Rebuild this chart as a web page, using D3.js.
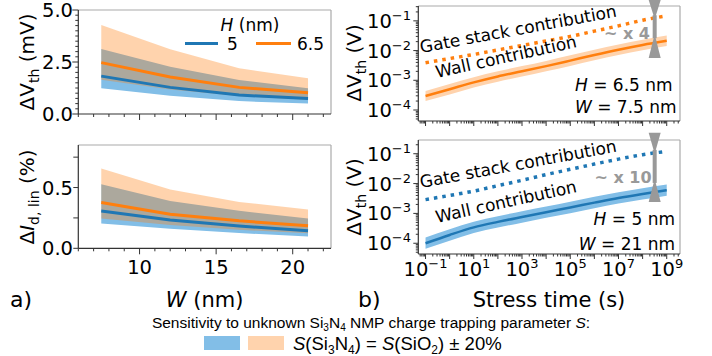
<!DOCTYPE html>
<html><head><meta charset="utf-8">
<script src="https://cdn.jsdelivr.net/npm/d3@7"></script>
<style>
body{margin:0;background:#fff}
svg{display:block}
text{font-family:"DejaVu Sans",sans-serif;fill:#000}
</style>
</head><body>
<svg id="c" width="712" height="356"></svg>
<script>
// ---------------- data ----------------
const widths = [7.5, 12, 16.5, 21];
const dVth5   = [1.82, 1.28, 0.91, 0.75];
const dVth5Lo = [1.24, 0.88, 0.62, 0.50];
const dVth5Hi = [3.13, 2.27, 1.63, 1.24];
const dVth65   = [2.47, 1.78, 1.28, 1.02];
const dVth65Lo = [1.65, 1.18, 0.86, 0.68];
const dVth65Hi = [4.28, 3.11, 2.20, 1.72];

const dId5   = [0.306, 0.232, 0.183, 0.144];
const dId5Lo = [0.205, 0.160, 0.125, 0.097];
const dId5Hi = [0.527, 0.390, 0.308, 0.246];
const dId65   = [0.377, 0.281, 0.226, 0.185];
const dId65Lo = [0.246, 0.191, 0.152, 0.123];
const dId65Hi = [0.656, 0.484, 0.382, 0.320];

const times = [1e-1, 1e0, 1e1, 1e2, 1e3, 1e4, 1e5, 1e6, 1e7, 1e8, 1e9];
const wall65   = [2.95e-4, 5.0e-4, 8.5e-4, 1.35e-3, 2.0e-3, 3.0e-3, 4.6e-3, 7.1e-3, 1.07e-2, 1.55e-2, 2.14e-2];
const wall65Lo = [2.0e-4, 3.35e-4, 5.7e-4, 9.0e-4, 1.33e-3, 2.0e-3, 3.05e-3, 4.7e-3, 7.1e-3, 1.03e-2, 1.42e-2];
const wall65Hi = [4.4e-4, 7.5e-4, 1.27e-3, 2.0e-3, 3.0e-3, 4.5e-3, 6.9e-3, 1.06e-2, 1.6e-2, 2.3e-2, 3.2e-2];
const gate65   = [3.9e-3, 5.4e-3, 7.4e-3, 1.05e-2, 1.48e-2, 2.1e-2, 3.0e-2, 4.5e-2, 6.8e-2, 1.05e-1, 1.48e-1];

const wall5   = [1.0e-4, 1.9e-4, 3.4e-4, 5.2e-4, 7.6e-4, 1.1e-3, 1.58e-3, 2.3e-3, 3.3e-3, 4.5e-3, 6.0e-3];
const wall5Lo = [6.5e-5, 1.22e-4, 2.2e-4, 3.35e-4, 4.9e-4, 7.1e-4, 1.02e-3, 1.48e-3, 2.13e-3, 2.9e-3, 3.9e-3];
const wall5Hi = [1.55e-4, 2.95e-4, 5.3e-4, 8.1e-4, 1.18e-3, 1.7e-3, 2.45e-3, 3.6e-3, 5.1e-3, 7.0e-3, 9.3e-3];
const gate5   = [2.9e-3, 4.0e-3, 5.6e-3, 8.5e-3, 1.29e-2, 2.0e-2, 3.0e-2, 4.5e-2, 6.6e-2, 9.3e-2, 1.2e-1];

// annotation arrows (time, [outer top, tip top, tip bottom, outer bottom])
const arrowTime = 10 ** 8.5;
const arrow65 = [0.5, 0.155, 0.026, 0.0056];
const arrow5  = [0.5, 0.135, 0.0105, 0.0024];

const xTicksW = [10, 15, 20];
const yTicksVth = [0, 2.5, 5];
const yTicksId = [0, 0.5];
const xTickExp = [-1, 1, 3, 5, 7, 9];
const yTickExp = [-1, -2, -3, -4];

// ---------------- style ----------------
const BLUE = "#1f77b4", ORANGE = "#ff7f0e";
const BLUE_BAND = "rgb(130,190,231)";
const ORANGE_BAND = "rgba(255,127,14,0.34)";
const ORANGE_PATCH = "rgb(255,211,173)";
const GRAY = "#999";
const SPINE = "#333", SPINE2 = "#aaa";

const svg = d3.select("#c");

// ---------------- left panels ----------------
const xW = d3.scaleLinear([6, 22.5], [78.3, 331]);
const yV = d3.scaleLinear([0, 5], [114, 10]);
const yI = d3.scaleLinear([0, 0.85], [248.3, 145]);

function frame(x0, x1, y0, y1) {
  svg.append("line").attr("x1", x0).attr("x2", x1).attr("y1", y0).attr("y2", y0).attr("stroke", SPINE2).attr("stroke-width", 1.2);
  svg.append("line").attr("x1", x1).attr("x2", x1).attr("y1", y0).attr("y2", y1).attr("stroke", SPINE2).attr("stroke-width", 1.2);
  svg.append("line").attr("x1", x0).attr("x2", x0).attr("y1", y0).attr("y2", y1).attr("stroke", SPINE).attr("stroke-width", 1.2);
  svg.append("line").attr("x1", x0).attr("x2", x1).attr("y1", y1).attr("y2", y1).attr("stroke", SPINE).attr("stroke-width", 1.2);
}
function tickX(x, y, len) {
  svg.append("line").attr("x1", x).attr("x2", x).attr("y1", y).attr("y2", y + len).attr("stroke", SPINE).attr("stroke-width", 1);
}
function tickY(x, y, len) {
  svg.append("line").attr("x1", x - len).attr("x2", x).attr("y1", y).attr("y2", y).attr("stroke", SPINE).attr("stroke-width", 1);
}

function leftPanel(y, lo5, v5, hi5, lo65, v65, hi65) {
  const area = (lo, hi) => d3.area().x((d, i) => xW(widths[i])).y0((d, i) => y(lo[i])).y1((d, i) => y(hi[i]))(widths);
  const line = (v) => d3.line().x((d, i) => xW(widths[i])).y((d, i) => y(v[i]))(widths);
  svg.append("path").attr("d", area(lo5, hi5)).attr("fill", BLUE_BAND);
  svg.append("path").attr("d", area(lo65, hi65)).attr("fill", ORANGE_BAND);
  svg.append("path").attr("d", line(v5)).attr("fill", "none").attr("stroke", BLUE).attr("stroke-width", 3);
  svg.append("path").attr("d", line(v65)).attr("fill", "none").attr("stroke", ORANGE).attr("stroke-width", 3);
}
leftPanel(yV, dVth5Lo, dVth5, dVth5Hi, dVth65Lo, dVth65, dVth65Hi);
leftPanel(yI, dId5Lo, dId5, dId5Hi, dId65Lo, dId65, dId65Hi);
frame(78.3, 331, 10, 114);
frame(78.3, 331, 145, 248.3);

// ticks left
d3.range(6, 23).forEach(w => {
  const major = xTicksW.includes(w);
  tickX(xW(w), 114, major ? 6 : 3);
  tickX(xW(w), 248.3, major ? 6 : 3);
});
d3.range(0, 5.01, 0.25).forEach(v => {
  const major = yTicksVth.some(t => Math.abs(t - v) < 1e-6);
  tickY(78.3, yV(v), major ? 6 : 3);
});
[0, 0.25, 0.5, 0.75].forEach(v => tickY(78.3, yI(v), 5));
yTicksVth.forEach(v => svg.append("text").attr("x", 73).attr("y", yV(v)).attr("dy", "0.36em")
  .attr("text-anchor", "end").attr("font-size", 19.5).text(v.toFixed(1)));
yTicksId.forEach(v => svg.append("text").attr("x", 73).attr("y", yI(v)).attr("dy", "0.36em")
  .attr("text-anchor", "end").attr("font-size", 19.5).text(v.toFixed(1)));
xTicksW.forEach(v => svg.append("text").attr("x", xW(v)).attr("y", 274)
  .attr("text-anchor", "middle").attr("font-size", 19.5).text(v));

// legend H (nm)
const lg = svg.append("g");
lg.append("text").attr("x", 250).attr("y", 31).attr("text-anchor", "middle").attr("font-size", 17)
  .html('<tspan font-style="italic">H</tspan> (nm)');
lg.append("line").attr("x1", 185).attr("x2", 218).attr("y1", 43.5).attr("y2", 43.5).attr("stroke", BLUE).attr("stroke-width", 3);
lg.append("text").attr("x", 227).attr("y", 50).attr("font-size", 17).text("5");
lg.append("line").attr("x1", 256).attr("x2", 291).attr("y1", 43.5).attr("y2", 43.5).attr("stroke", ORANGE).attr("stroke-width", 3);
lg.append("text").attr("x", 297).attr("y", 50).attr("font-size", 17).text("6.5");

// y labels
function ylab(x, y, html) {
  svg.append("text").attr("transform", `translate(${x},${y}) rotate(-90)`).attr("text-anchor", "middle")
    .attr("font-size", 20).html(html);
}
ylab(34, 62, 'ΔV<tspan font-size="14" dy="5">th</tspan><tspan dy="-5"> (mV)</tspan>');
ylab(34, 197, 'Δ<tspan font-style="italic">I</tspan><tspan font-size="14" dy="5">d, lin</tspan><tspan dy="-5"> (%)</tspan>');
svg.append("text").attr("x", xW(14.25)).attr("y", 307).attr("text-anchor", "middle").attr("font-size", 21)
  .html('<tspan font-style="italic">W</tspan> (nm)');
svg.append("text").attr("x", 10).attr("y", 307).attr("font-size", 22).text("a)");

// ---------------- right panels ----------------
const xT = d3.scaleLog([10 ** -1.3, 10 ** 9.55], [418.3, 680]);
const yR1 = d3.scaleLog([10 ** -4.37, 10 ** -0.5], [121, 6]);
const yR2 = d3.scaleLog([10 ** -4.36, 10 ** -0.54], [254, 140]);

function rightPanel(y, lo, v, hi, gate, col, arrow, y0, y1) {
  const area = d3.area().curve(d3.curveMonotoneX).x((d, i) => xT(times[i])).y0((d, i) => y(lo[i])).y1((d, i) => y(hi[i]));
  const line = (vals) => d3.line().curve(d3.curveMonotoneX).x((d, i) => xT(times[i])).y((d, i) => y(vals[i]));
  svg.append("path").attr("d", area(times)).attr("fill", col === BLUE ? BLUE_BAND : ORANGE_PATCH);
  svg.append("path").attr("d", line(v)(times)).attr("fill", "none").attr("stroke", col).attr("stroke-width", 2.5);
  svg.append("path").attr("d", line(gate)(times)).attr("fill", "none").attr("stroke", col).attr("stroke-width", 3.5)
    .attr("stroke-dasharray", "3.5 5");
  frame(418.3, 680, y0, y1);
  for (let e = -2; e <= 9; e++) {
    for (let k = 1; k <= 9; k++) {
      const t = k * 10 ** e;
      if (t < xT.domain()[0] || t > xT.domain()[1]) continue;
      tickX(xT(t), y1, k === 1 ? 5 : 2.5);
    }
  }
  for (let e = -5; e <= -1; e++) {
    for (let k = 1; k <= 9; k++) {
      const t = k * 10 ** e;
      if (t < y.domain()[0] || t > y.domain()[1]) continue;
      tickY(418.3, y(t), k === 1 ? 5 : 2.5);
    }
  }
  yTickExp.forEach(e => svg.append("text").attr("x", 411).attr("y", y(10 ** e)).attr("dy", "0.36em")
    .attr("text-anchor", "end").attr("font-size", 19.5)
    .html(`10<tspan font-size="13" dy="-8">−${-e}</tspan>`));
  const ax = xT(arrowTime);
  const a = arrow.map(y);
  const g = svg.append("g").attr("fill", GRAY);
  g.append("rect").attr("x", ax - 2).attr("y", a[1]).attr("width", 4).attr("height", a[2] - a[1]);
  g.append("path").attr("d", `M${ax - 6},${a[0]}L${ax + 6},${a[0]}L${ax},${a[1] + 4}Z`);
  g.append("path").attr("d", `M${ax - 6},${a[3]}L${ax + 6},${a[3]}L${ax},${a[2] - 4}Z`);
}
rightPanel(yR1, wall65Lo, wall65, wall65Hi, gate65, ORANGE, arrow65, 6, 121);
rightPanel(yR2, wall5Lo, wall5, wall5Hi, gate5, BLUE, arrow5, 140, 254);

xTickExp.forEach(e => svg.append("text").attr("x", xT(10 ** e)).attr("y", 276).attr("text-anchor", "middle")
  .attr("font-size", 19.5).html(`10<tspan font-size="13" dy="-8">${e < 0 ? "−" + (-e) : e}</tspan>`));

ylab(361, 63, 'ΔV<tspan font-size="14" dy="5">th</tspan><tspan dy="-5"> (V)</tspan>');
ylab(361, 197, 'ΔV<tspan font-size="14" dy="5">th</tspan><tspan dy="-5"> (V)</tspan>');
svg.append("text").attr("x", 549).attr("y", 307).attr("text-anchor", "middle").attr("font-size", 21).text("Stress time (s)");
svg.append("text").attr("x", 358).attr("y", 307).attr("font-size", 22).text("b)");

function ann(x, y, rot, txt, opts = {}) {
  const t = svg.append("text").attr("transform", `translate(${x},${y}) rotate(${rot})`).attr("font-size", opts.size || 17);
  if (opts.anchor) t.attr("text-anchor", opts.anchor);
  if (opts.fill) t.style("fill", opts.fill);
  if (opts.bold) t.attr("font-weight", "bold");
  t.html(txt);
}
ann(421, 53, -10.5, "Gate stack contribution");
ann(437, 78, -12.5, "Wall contribution");
ann(627, 39, 0, "~ x 4", { anchor: "middle", fill: GRAY, bold: true, size: 16 });
ann(575, 91, 0, '<tspan font-style="italic">H</tspan> = 6.5 nm');
ann(575, 113, 0, '<tspan font-style="italic">W</tspan> = 7.5 nm');

ann(421, 188, -10.5, "Gate stack contribution");
ann(437, 223, -12.5, "Wall contribution");
ann(623, 183, 0, "~ x 10", { anchor: "middle", fill: GRAY, bold: true, size: 16 });
ann(675, 225, 0, '<tspan font-style="italic">H</tspan> = 5 nm', { anchor: "end" });
ann(675, 250, 0, '<tspan font-style="italic">W</tspan> = 21 nm', { anchor: "end" });

// ---------------- bottom legend ----------------
const LF = "'Liberation Sans', Arial, sans-serif";
svg.append("text").attr("x", 371).attr("y", 328).attr("text-anchor", "middle").attr("font-size", 15.5)
  .style("font-family", LF)
  .html('Sensitivity to unknown Si<tspan font-size="10" dy="3">3</tspan><tspan dy="-3">N</tspan><tspan font-size="10" dy="3">4</tspan><tspan dy="-3"> NMP charge trapping parameter </tspan><tspan font-style="italic">S</tspan>:');
svg.append("rect").attr("x", 204).attr("y", 336).attr("width", 36).attr("height", 14).attr("fill", BLUE_BAND);
svg.append("rect").attr("x", 248).attr("y", 336).attr("width", 36).attr("height", 14).attr("fill", ORANGE_PATCH);
svg.append("text").attr("x", 293).attr("y", 350).attr("font-size", 18.5)
  .style("font-family", LF)
  .html('<tspan font-style="italic">S</tspan>(Si<tspan font-size="12" dy="4">3</tspan><tspan dy="-4">N</tspan><tspan font-size="12" dy="4">4</tspan><tspan dy="-4">) = </tspan><tspan font-style="italic">S</tspan>(SiO<tspan font-size="12" dy="4">2</tspan><tspan dy="-4">) ± 20%</tspan>');
</script>
</body></html>
